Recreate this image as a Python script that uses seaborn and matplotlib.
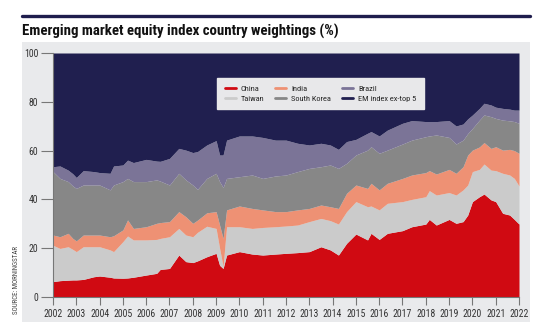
import numpy as np
import matplotlib
matplotlib.use("Agg")
import matplotlib.pyplot as plt
from matplotlib.patches import Rectangle
from matplotlib.lines import Line2D
from matplotlib import font_manager
import seaborn as sns

# ---- data ----
dates = [2002.0, 2002.3, 2002.65, 2002.85, 2003.0, 2003.3, 2003.75, 2004.0, 2004.45, 2004.6,
         2005.0, 2005.2, 2005.45, 2006.0, 2006.45, 2006.6, 2007.0, 2007.4, 2007.7, 2008.0,
         2008.2, 2008.6, 2009.0, 2009.15, 2009.3, 2009.45, 2010.0, 2010.55, 2011.0, 2011.55,
         2012.0, 2012.5, 2013.0, 2013.5, 2013.9, 2014.25, 2014.6, 2015.0, 2015.5, 2015.65,
         2016.0, 2016.35, 2017.0, 2017.4, 2018.0, 2018.15, 2018.45, 2019.0, 2019.3, 2019.6,
         2019.8, 2020.0, 2020.3, 2020.5, 2020.8, 2021.0, 2021.3, 2021.6, 2021.8, 2022.0]

china = [6.3, 6.7, 6.9, 7.0, 7.0, 7.2, 8.3, 8.6, 8.1, 7.8,
         7.7, 7.8, 8.1, 9.0, 9.7, 11.3, 11.7, 17.2, 14.5, 14.1,
         14.8, 16.5, 17.9, 13.0, 11.7, 17.2, 18.6, 17.6, 17.2, 17.6,
         17.9, 18.2, 18.6, 20.6, 19.3, 17.2, 22.0, 25.8, 23.4, 26.1,
         23.6, 26.1, 27.2, 28.8, 29.9, 31.8, 29.5, 31.8, 30.2, 30.9,
         33.6, 39.1, 41.1, 42.2, 39.8, 39.1, 34.3, 33.6, 31.8, 29.9]

taiwan = [14.9, 13.2, 13.7, 12.5, 11.6, 13.4, 12.3, 12.0, 11.2, 10.8,
          15.0, 17.2, 15.3, 14.4, 13.9, 12.7, 13.0, 10.9, 10.9, 10.6,
          11.7, 12.5, 10.2, 7.0, 0.8, 11.6, 10.2, 10.5, 11.3, 11.2,
          11.2, 11.3, 12.3, 11.6, 12.0, 12.7, 13.0, 13.3, 13.6, 11.2,
          12.1, 12.3, 11.9, 11.2, 11.2, 11.8, 12.3, 11.0, 11.6, 13.0,
          12.3, 12.3, 11.2, 12.3, 12.2, 12.7, 16.4, 16.4, 16.8, 15.6]

india = [4.2, 4.8, 5.5, 4.5, 4.4, 4.8, 4.8, 4.8, 5.4, 6.5,
         4.8, 6.6, 4.7, 5.4, 6.6, 6.5, 6.2, 6.9, 7.5, 5.5,
         5.0, 5.5, 6.9, 9.5, 11.5, 6.9, 8.5, 8.2, 7.2, 6.2,
         5.9, 6.2, 5.4, 5.5, 5.7, 6.4, 7.5, 6.8, 7.5, 9.3,
         8.2, 8.2, 9.5, 10.0, 9.9, 8.2, 8.6, 9.5, 8.9, 9.5,
         12.3, 8.8, 9.2, 8.8, 8.9, 9.8, 9.5, 10.5, 11.4, 13.4]

south_korea = [26.0, 23.9, 21.2, 21.5, 21.5, 20.5, 20.5, 20.5, 19.2, 20.8,
               19.8, 17.0, 19.2, 18.5, 17.8, 17.0, 15.0, 15.7, 15.1, 15.7,
               12.6, 14.1, 15.7, 17.8, 20.9, 12.9, 12.0, 13.7, 12.9, 14.6,
               15.0, 15.7, 16.4, 15.7, 17.1, 16.4, 12.3, 12.3, 15.7, 15.0,
               15.0, 13.6, 14.1, 14.3, 14.7, 14.2, 16.0, 13.1, 12.0, 10.9,
               8.8, 8.9, 11.0, 11.3, 13.0, 11.6, 12.3, 11.7, 11.9, 12.3]

brazil = [2.0, 5.1, 4.7, 5.0, 4.5, 5.9, 5.5, 5.1, 6.8, 7.8,
          6.8, 7.5, 7.8, 9.1, 7.7, 8.1, 10.9, 10.2, 12.2, 13.3,
          15.5, 13.7, 13.4, 10.9, 13.3, 15.7, 16.7, 16.0, 16.8, 14.7,
          14.3, 11.6, 9.6, 9.6, 8.2, 7.8, 8.9, 6.4, 6.9, 6.2,
          7.1, 8.2, 8.5, 8.0, 6.2, 5.9, 5.5, 6.9, 7.4, 6.6,
          6.0, 5.5, 4.8, 4.8, 4.8, 4.6, 4.8, 4.8, 4.7, 5.4]

em_rest = [46.6, 46.3, 48.0, 49.5, 51.0, 48.2, 48.6, 49.0, 49.3, 46.3,
           45.9, 43.9, 44.9, 43.6, 44.3, 44.4, 43.2, 39.1, 39.8, 40.8,
           40.4, 37.7, 35.9, 41.8, 41.8, 35.7, 34.0, 34.0, 34.6, 35.7,
           35.7, 37.0, 37.7, 37.0, 37.7, 39.5, 36.3, 35.4, 32.9, 32.2,
           34.0, 31.6, 28.8, 27.7, 28.1, 28.1, 28.1, 27.7, 29.9, 29.1,
           27.0, 25.4, 22.7, 20.6, 21.3, 22.2, 22.7, 23.0, 23.4, 23.4]

series_names = ["China", "Taiwan", "India", "South Korea", "Brazil", "EM index ex-top 5"]
x_ticks = list(range(2002, 2023))
y_ticks = [0, 20, 40, 60, 80, 100]
title = "Emerging market equity index country weightings (%)"
source = "SOURCE: MORNINGSTAR"

colors = ["#d00a12", "#cbcbcb", "#ee9174", "#878787", "#7b7497", "#201f4f"]

# ---- style ----
sns.set_theme(style="ticks")
available = {f.name for f in font_manager.fontManager.ttflist}
cands = ["Roboto Condensed", "Liberation Sans Narrow", "DejaVu Sans Condensed",
         "Roboto", "DejaVu Sans"]
narrow = [c for c in cands if c in available] or ["DejaVu Sans"]
plt.rcParams["font.family"] = narrow
main = narrow[0]
is_condensed = main in ("Roboto Condensed", "Liberation Sans Narrow", "DejaVu Sans Condensed")
tscale = 1.0 if is_condensed else 0.86

fig = plt.figure(figsize=(5.4, 3.34), dpi=100)
fig.patch.set_facecolor("white")
W, H = 540.0, 334.0

# background panel
fig.add_artist(Rectangle((22 / W, 1 - 322 / H), (530 - 22) / W, (322 - 42) / H,
                         transform=fig.transFigure, facecolor="#e9eaec",
                         edgecolor="none", zorder=0))
# top rule
fig.add_artist(Line2D([22 / W, 530 / W], [1 - 16 / H, 1 - 16 / H],
                      transform=fig.transFigure, color="#1f1d4d", linewidth=2.4))
fig.text(22 / W, 1 - 36 / H, title, fontsize=10.7 * tscale, fontweight="bold",
         color="#111111", va="baseline", ha="left", family=narrow)
fig.text(17 / W, 1 - 314 / H, source, rotation=90, fontsize=5.0, color="#444444",
         va="bottom", ha="center", family=narrow)

ax = fig.add_axes([53 / W, 1 - 297 / H, (519 - 53) / W, (297 - 53) / H])
ax.set_facecolor("#e9eaec")

ax.stackplot(dates, china, taiwan, india, south_korea, brazil, em_rest,
             colors=colors, labels=series_names, linewidth=0)

ax.set_xlim(2002, 2022)
ax.set_ylim(0, 100)
ax.set_xticks(x_ticks)
ax.set_xticklabels([str(t) for t in x_ticks])
ax.set_yticks(y_ticks)
ax.tick_params(axis="x", length=5.5, width=0.8, color="#777777",
               labelsize=7 * tscale, labelcolor="#333333", pad=3)
ax.tick_params(axis="y", length=8.5, width=0.8, color="#777777",
               labelsize=7 * tscale, labelcolor="#333333", pad=2)
sns.despine(ax=ax, top=True, right=True)
for s in ["left", "bottom"]:
    ax.spines[s].set_color("#777777")
    ax.spines[s].set_linewidth(0.8)

handles = [Line2D([0], [0], color=c, lw=2) for c in colors]
leg = ax.legend(handles, series_names, ncol=3, loc="upper left",
                bbox_to_anchor=(0.343, 0.915), frameon=True, fontsize=6.0 * tscale,
                handlelength=1.35, handletextpad=0.6, columnspacing=1.3,
                labelspacing=0.3, borderpad=0.9, fancybox=False)
leg.get_frame().set_facecolor("#e8e8ea")
leg.get_frame().set_edgecolor("#e8e8ea")
leg.get_frame().set_alpha(1)

fig.savefig("out.png", dpi=100)
